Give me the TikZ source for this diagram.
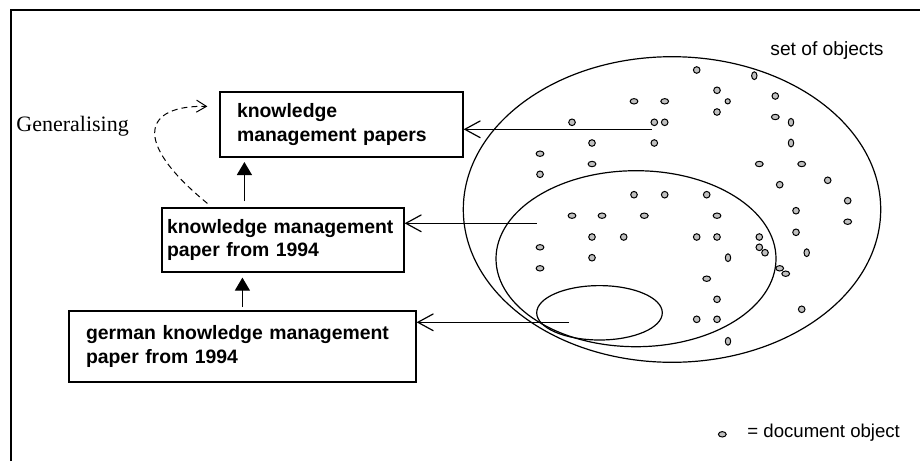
\documentclass[tikz,border=0pt]{standalone}
\usepackage{fontspec}
\setmainfont{Liberation Serif}
\setsansfont{Liberation Sans}
\usetikzlibrary{positioning,arrows.meta}
\definecolor{dotgray}{RGB}{192,192,192}

\tikzset{
  box/.style={draw, line width=0.6pt, align=left, inner ysep=0pt,
    font=\sffamily\bfseries\fontsize{9.7}{11.65}\selectfont},
  lbl/.style={inner sep=0pt, anchor=west, font=\sffamily\fontsize{9.6}{11}\selectfont},
  dot/.style={draw=black, fill=dotgray, line width=0.5pt},
  isa/.style={line width=0.6pt, -{Triangle[length=6.5pt,width=7.5pt]}},
  member/.style={line width=0.6pt, -{Straight Barb[length=7.8pt,width=8.5pt]}},
  genarrow/.style={line width=0.5pt, dash pattern=on 3pt off 2pt,
    -{Straight Barb[length=5pt,width=6pt]}}
}

\begin{document}
\begin{tikzpicture}[x=0.5pt,y=-0.5pt]
  \useasboundingbox (0,0) rectangle (920,461);
  % Frame (only top and left edge visible)
  \draw[line width=1pt] (11,461) -- (11,10) -- (920,10);

  % Concept boxes
  \node[box, minimum width=121.5pt, minimum height=32.5pt, inner xsep=8.5pt,
    text width=104.5pt] (kmp) at (341.5,124.5) {knowledge\\management papers};
  \node[box, minimum width=121pt, minimum height=32pt, inner xsep=2.5pt,
    text width=116pt] (kmp94) at (283,240) {knowledge management\\paper from 1994};
  \node[box, minimum width=173.5pt, minimum height=35.5pt, inner xsep=8.5pt,
    text width=156.5pt] (gkmp94) at (242.5,346.5) {german knowledge management\\paper from 1994};

  % Labels
  \node[anchor=west, inner sep=0pt, font=\fontsize{11}{13}\selectfont] (gen) at (16,126) {Generalising};
  \node[lbl] (setlbl) at (770,50.7) {set of objects};
  \node[lbl, font=\sffamily\fontsize{9.3}{11}\selectfont] (legend) at (747,432.3) {= document object};

  % Sets of objects
  \draw[line width=0.6pt] (672,209.5) ellipse [x radius=104.35pt, y radius=76.4pt];
  \draw[line width=0.6pt] (636,258.7) ellipse [x radius=70pt, y radius=44pt];
  \draw[line width=0.6pt] (599.5,312.8) ellipse [x radius=31.4pt, y radius=13.6pt];

  % Document objects
  \foreach \x/\y in {696.7/70, 717/90.3, 717/112, 775.3/96, 572/122.3, 654.3/122.3,
      664.7/122.3, 592/143, 654.3/143, 540/174.3, 827.7/180.3, 779.7/184.7,
      634/194.7, 664.7/194.7, 706.7/194.7, 847.7/200.7, 796/210.7, 592/237,
      623.7/237, 696.7/237, 717/237, 759.3/237, 796/232.3, 759.3/247.3,
      765/252.7, 592/257.7, 717/299.3, 801.7/309.3, 696.7/319.3, 717/319.3}
    \draw[dot] (\x,\y) circle [radius=1.65pt];
  \foreach \x/\y in {634/101.3, 664.7/101.3, 775.3/117, 540/153.7, 592/164,
      759.3/164, 801.7/164, 572/215.7, 602/215.7, 644.3/215.7, 717/215.7,
      847.7/221.7, 540/247.3, 540/268.3, 779.7/268.3, 785.7/273.7, 706.7/278.7,
      722.3/434.3}
    \draw[dot] (\x,\y) ellipse [x radius=1.95pt, y radius=1.35pt];
  \foreach \x/\y in {754.3/75.7, 791/122.3, 791/143, 806.7/252.7, 728/257.7, 728/341.3}
    \draw[dot] (\x,\y) ellipse [x radius=1.35pt, y radius=1.95pt];
  \draw[dot] (727.7,101.3) circle [radius=1.3pt];

  % Set members point to their concept
  \coordinate (s1) at (651.7,129.3);
  \coordinate (s2) at (536.7,223.3);
  \coordinate (s3) at (569,322.3);
  \draw[member] (s1) -- (s1 -| kmp.east);
  \draw[member] (s2) -- (s2 -| kmp94.east);
  \draw[member] (s3) -- (s3 -| gkmp94.east);

  % Concept hierarchy
  \draw[isa] ([xshift=41.5pt,yshift=3pt]kmp94.north west) -- ([xshift=12.5pt,yshift=-2.2pt]kmp.south west);
  \draw[isa] ([xshift=87pt,yshift=1.7pt]gkmp94.north west) -- ([xshift=40.5pt,yshift=-2.5pt]kmp94.south west);

  % Generalising
  \draw[genarrow] ([xshift=23pt,yshift=2pt]kmp94.north west)
    .. controls (130,140) and (145,105) .. ([xshift=-6pt,yshift=-7.5pt]kmp.north west);
\end{tikzpicture}
\end{document}
